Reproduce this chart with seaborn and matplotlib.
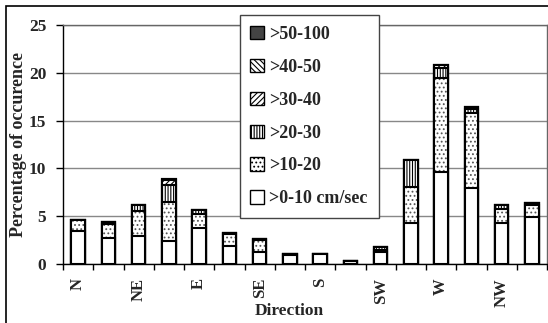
import matplotlib
matplotlib.use("Agg")
import matplotlib.pyplot as plt
from matplotlib.patches import Patch, Rectangle
import seaborn as sns
import numpy as np
import pandas as pd

directions = ["N", "NNE", "NE", "ENE", "E", "ESE", "SE", "SSE",
              "S", "SSW", "SW", "WSW", "W", "WNW", "NW", "NNW"]
tick_labels = ["N", "", "NE", "", "E", "", "SE", "",
               "S", "", "SW", "", "W", "", "NW", ""]
series_names = [">0-10 cm/sec", ">10-20", ">20-30", ">30-40", ">40-50", ">50-100"]
v_0_10 = [3.45, 2.7, 2.9, 2.4, 3.8, 1.9, 1.3, 0.9, 1.0, 0.3, 1.3, 4.3, 9.65, 8.0, 4.3, 4.9]
v_10_20 = [1.2, 1.5, 2.6, 4.1, 1.4, 1.2, 1.2, 0.1, 0.0, 0.0, 0.2, 3.75, 9.85, 7.8, 1.5, 1.3]
v_20_30 = [0.0, 0.2, 0.7, 1.8, 0.5, 0.15, 0.15, 0.0, 0.0, 0.0, 0.25, 2.85, 1.05, 0.45, 0.4, 0.15]
v_30_40 = [0.0, 0.0, 0.0, 0.45, 0.0, 0.0, 0.0, 0.0, 0.0, 0.0, 0.0, 0.0, 0.3, 0.2, 0.0, 0.0]
v_40_50 = [0.0, 0.0, 0.0, 0.15, 0.0, 0.0, 0.0, 0.0, 0.0, 0.0, 0.0, 0.0, 0.0, 0.0, 0.0, 0.0]
v_50_100 = [0.0] * 16

layers = [v_0_10, v_10_20, v_20_30, v_30_40, v_40_50, v_50_100]
styles = [
    dict(color="white", hatch=None, hc="black"),
    dict(color="white", hatch="....", hc="#555555"),
    dict(color="white", hatch="||||||", hc="black"),
    dict(color="white", hatch="//////", hc="black"),
    dict(color="white", hatch="\\\\\\\\\\\\", hc="black"),
    dict(color="#444444", hatch=None, hc="black"),
]

sns.set_style("white")
plt.rcParams["font.family"] = ["Liberation Serif", "DejaVu Serif"]
plt.rcParams["font.weight"] = "bold"
plt.rcParams["hatch.linewidth"] = 0.8

fig = plt.figure(figsize=(5.48, 3.23), dpi=100)
ax = fig.add_axes([63 / 548, 1 - 264 / 323, 484 / 548, 239 / 323])

df = pd.DataFrame({"dir": directions})
cum = np.cumsum(np.array(layers), axis=0)
ax.set_axisbelow(True)
ax.yaxis.grid(True, color="#888888", linewidth=1.0)

for k in range(len(layers) - 1, -1, -1):
    df["val"] = cum[k]
    st = styles[k]
    sns.barplot(data=df, x="dir", y="val", order=directions, color=st["color"],
                saturation=1, errorbar=None, width=0.44, ax=ax,
                hatch=st["hatch"], edgecolor=st["hc"], linewidth=0)
    sns.barplot(data=df, x="dir", y="val", order=directions, fill=False,
                color="black", errorbar=None, width=0.44, ax=ax,
                edgecolor="black", linewidth=1.5)

ax.set_xlim(-0.5, 15.5)
ax.set_ylim(0, 25)
ax.set_yticks([0, 5, 10, 15, 20, 25])
ax.set_yticklabels(["0", "5", "10", "15", "20", "25"], fontsize=12.5, fontweight="bold")
ax.set_xticks(range(16))
ax.set_xticklabels(tick_labels, rotation=90, fontsize=12, fontweight="bold")
ax.set_xticks(np.arange(-0.5, 16, 1.0), minor=True)
ax.tick_params(axis="x", which="major", length=0, pad=10)
ax.tick_params(axis="x", which="minor", length=4, width=1, direction="out", bottom=True, color="black")
ax.tick_params(axis="y", length=5, width=1, direction="out", left=True, color="black", pad=7)

for s in ax.spines.values():
    s.set_visible(True)
    s.set_color("black")
    s.set_linewidth(1.0)
ax.spines["top"].set_color("#666666")
ax.spines["right"].set_color("#666666")

ax.set_xlabel("Direction", fontsize=12.5, fontweight="bold")
ax.xaxis.set_label_coords((289 - 63) / 484, -(311 - 264) / 239)
ax.xaxis.label.set_va("center")
ax.set_ylabel("Percentage of occurence", fontsize=13, fontweight="bold")
ax.yaxis.set_label_coords(-(63 - 19) / 484, 0.5)
ax.yaxis.label.set_va("center")

handles = []
for k in range(len(layers) - 1, -1, -1):
    st = styles[k]
    handles.append(Patch(facecolor=st["color"], hatch=st["hatch"], edgecolor="black",
                         linewidth=1.0, label=series_names[k]))
leg = ax.legend(handles=handles, loc="upper center",
                bbox_to_anchor=(309 / 548, 1 - 15 / 323), bbox_transform=fig.transFigure,
                frameon=True, fancybox=False, edgecolor="#444444", framealpha=1,
                prop={"weight": "bold", "size": 13}, labelspacing=0.88,
                handlelength=0.75, handleheight=0.75, handletextpad=0.3,
                borderpad=0.6, borderaxespad=0)
leg.get_frame().set_linewidth(1.0)

fig.add_artist(Rectangle((6 / 548, -0.1), 2, 1 - 6 / 323 + 0.1, transform=fig.transFigure,
                         fill=False, edgecolor="black", linewidth=1.2))

fig.savefig("out.png", dpi=100)
